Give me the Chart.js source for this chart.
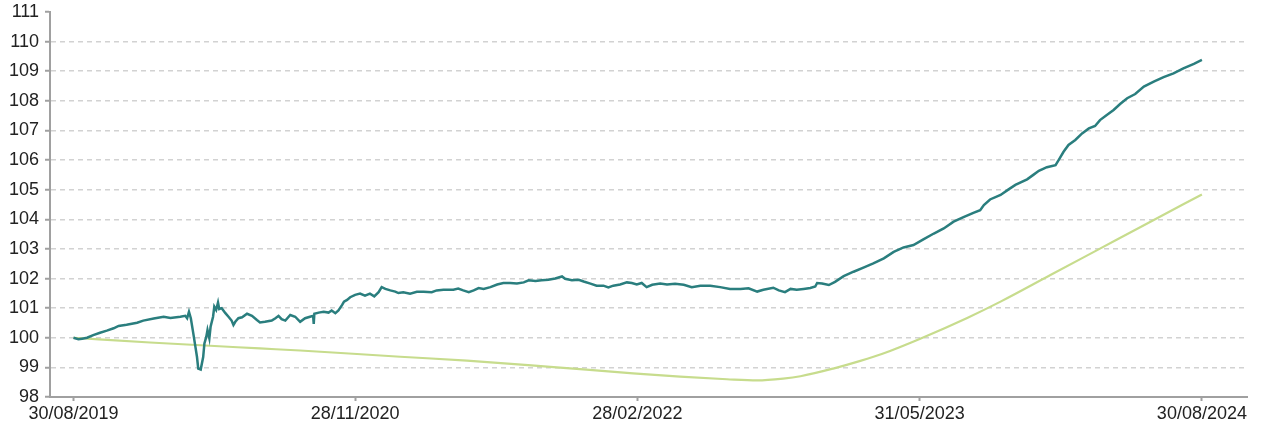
<!DOCTYPE html>
<html>
<head>
<meta charset="utf-8">
<script src="https://cdn.jsdelivr.net/npm/chart.js@4.4.1/dist/chart.umd.min.js"></script>
<style>
    html, body { margin: 0; padding: 0; background: #fff; }
</style>
</head>
<body>
<canvas id="lineChart" width="1263" height="427"></canvas>
<script>
// Tick labels of the x axis (dd/mm/yyyy)
const tickLabels = ['30/08/2019', '28/11/2020', '28/02/2022', '31/05/2023', '30/08/2024'];

// Fonds : days since 30/08/2019 and base 100 values
const tealDays = [0, 8, 14, 22, 32, 43, 54, 65, 73, 86, 103, 113, 130, 146, 157, 173, 181, 184, 187, 190,
    194, 197, 200, 202, 206, 210, 212, 215, 217, 220, 222, 226, 228, 231, 234, 236, 240, 246, 251, 256,
    259, 262, 267, 273, 281, 289, 297, 302, 310, 321, 327, 332, 337, 343, 351, 359, 367, 375, 383, 388,
    389, 390, 397, 405, 413, 418, 424, 429, 435, 438, 443, 448, 456, 464, 472, 480, 487, 494, 499, 505,
    513, 521, 526, 534, 545, 556, 567, 580, 588, 599, 615, 623, 631, 640, 648, 656, 664, 675, 686, 696,
    707, 718, 729, 737, 748, 758, 769, 780, 791, 796, 807, 818, 826, 837, 847, 858, 866, 874, 885, 896,
    904, 912, 920, 928, 937, 950, 961, 974, 988, 1001, 1015, 1031, 1047, 1063, 1080, 1093, 1107, 1117, 1133, 1142,
    1152, 1161, 1171, 1182, 1193, 1201, 1204, 1212, 1223, 1233, 1247, 1263, 1279, 1295, 1312, 1328, 1344, 1360, 1376, 1393,
    1409, 1425, 1441, 1457, 1468, 1474, 1484, 1501, 1514, 1525, 1544, 1554, 1563, 1576, 1590, 1595, 1603, 1611, 1622, 1633,
    1644, 1654, 1662, 1673, 1684, 1695, 1706, 1719, 1733, 1749, 1765, 1781, 1797, 1814, 1827];
const tealValues = [100.00, 99.95, 99.97, 100.00, 100.09, 100.17, 100.24, 100.32, 100.40, 100.44, 100.51, 100.58, 100.65, 100.71, 100.67, 100.71, 100.74, 100.66, 100.88, 100.66,
    100.15, 99.75, 99.35, 98.96, 98.93, 99.35, 99.81, 100.03, 100.26, 99.98, 100.37, 100.71, 101.05, 100.94, 101.19, 100.97, 101.00, 100.83, 100.71, 100.58,
    100.43, 100.54, 100.66, 100.69, 100.81, 100.74, 100.60, 100.52, 100.54, 100.58, 100.66, 100.74, 100.63, 100.58, 100.77, 100.71, 100.54, 100.66, 100.71, 100.74,
    100.47, 100.81, 100.85, 100.88, 100.85, 100.92, 100.83, 100.92, 101.11, 101.22, 101.28, 101.37, 101.45, 101.49, 101.42, 101.49, 101.40, 101.54, 101.71, 101.65,
    101.60, 101.56, 101.51, 101.54, 101.49, 101.55, 101.55, 101.54, 101.60, 101.62, 101.62, 101.66, 101.60, 101.54, 101.60, 101.68, 101.65, 101.71, 101.80, 101.85,
    101.85, 101.83, 101.87, 101.94, 101.92, 101.94, 101.96, 102.00, 102.07, 101.99, 101.94, 101.96, 101.90, 101.83, 101.76, 101.76, 101.70, 101.76, 101.80, 101.87,
    101.85, 101.80, 101.85, 101.71, 101.79, 101.83, 101.80, 101.82, 101.79, 101.71, 101.76, 101.76, 101.71, 101.65, 101.65, 101.67, 101.56, 101.62, 101.69, 101.60,
    101.54, 101.65, 101.62, 101.65, 101.68, 101.73, 101.85, 101.83, 101.78, 101.89, 102.08, 102.23, 102.37, 102.51, 102.68, 102.90, 103.05, 103.13, 103.32, 103.52,
    103.69, 103.92, 104.07, 104.22, 104.31, 104.48, 104.67, 104.82, 105.01, 105.16, 105.35, 105.50, 105.64, 105.76, 105.83, 106.00, 106.28, 106.51, 106.68, 106.90,
    107.07, 107.15, 107.35, 107.52, 107.69, 107.90, 108.09, 108.23, 108.48, 108.65, 108.80, 108.93, 109.10, 109.25, 109.38];

// Indice de référence
const greenDays = [0, 124, 302, 367, 529, 637, 772, 906, 982, 1058, 1107, 1149, 1177, 1230, 1274, 1311, 1371, 1447, 1501, 1581, 1662, 1743, 1827];
const greenValues = [100.00, 99.84, 99.64, 99.57, 99.36, 99.23, 99.02, 98.80, 98.69, 98.60, 98.56, 98.62, 98.70, 98.96, 99.22, 99.47, 99.97, 100.67, 101.22, 102.11, 103.01, 103.91, 104.84];

// y axis bounds
const yMin = 98;
const yMax = 111;

function parseDate(str) {
    const [d, m, y] = str.split('/').map(Number);
    return Date.UTC(y, m - 1, d);
}
const startDate = parseDate(tickLabels[0]);
const tickDays = tickLabels.map(s => Math.round((parseDate(s) - startDate) / 86400000));

const toPoints = (days, values) => days.map((d, i) => ({x: d, y: values[i]}));

const fontSpec = {family: '"Liberation Sans", Arial, sans-serif', size: 18};

const ctx = document.getElementById('lineChart').getContext('2d');
new Chart(ctx, {
    type: 'line',
    data: {
        datasets: [{
            label: 'Fonds',
            data: toPoints(tealDays, tealValues),
            borderColor: '#2a7e7e',
            borderWidth: 2.5,
            pointRadius: 0,
            tension: 0
        }, {
            label: 'Référence',
            data: toPoints(greenDays, greenValues),
            borderColor: '#c7dc8d',
            borderWidth: 2.2,
            pointRadius: 0,
            cubicInterpolationMode: 'monotone'
        }]
    },
    options: {
        responsive: false,
        animation: false,
        devicePixelRatio: 1,
        layout: {
            padding: {top: 12, right: 16, left: 0, bottom: 0}
        },
        plugins: {
            legend: {display: false},
            tooltip: {enabled: false}
        },
        scales: {
            x: {
                type: 'linear',
                min: -38,
                max: 1900,
                afterBuildTicks: function (scale) {
                    scale.ticks = tickDays.map(v => ({value: v}));
                },
                afterFit: function (scale) {
                    scale.height = 30;
                },
                ticks: {
                    autoSkip: false,
                    maxRotation: 0,
                    padding: 2,
                    color: '#222',
                    font: fontSpec,
                    callback: function (value) {
                        const i = tickDays.indexOf(value);
                        return i >= 0 ? tickLabels[i] : '';
                    }
                },
                grid: {
                    drawOnChartArea: false,
                    drawTicks: true,
                    tickLength: 4,
                    tickColor: '#a0a0a0',
                    tickWidth: 2
                },
                border: {
                    color: '#a0a0a0',
                    width: 2
                }
            },
            y: {
                min: yMin,
                max: yMax,
                afterFit: function (scale) {
                    scale.width = 50;
                    scale.paddingTop = 0;
                    scale.paddingBottom = 0;
                },
                ticks: {
                    stepSize: 1,
                    padding: 6,
                    color: '#222',
                    font: fontSpec
                },
                grid: {
                    color: function (c) {
                        const v = c.tick && c.tick.value;
                        return (v === yMin || v === yMax) ? 'rgba(0,0,0,0)' : '#d2d2d2';
                    },
                    lineWidth: 1.5,
                    tickLength: 5,
                    tickColor: '#a0a0a0',
                    tickWidth: 2
                },
                border: {
                    color: '#a0a0a0',
                    width: 2,
                    dash: [5, 4]
                }
            }
        }
    }
});
</script>
</body>
</html>
